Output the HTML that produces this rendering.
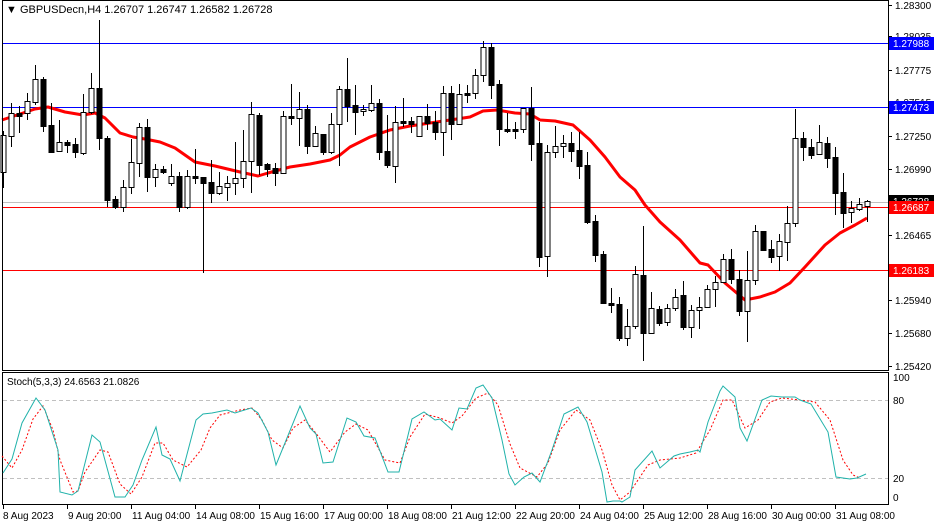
<!DOCTYPE html>
<html><head><meta charset="utf-8"><style>
body{margin:0;background:#fff;}
svg{display:block;font-family:"Liberation Sans",sans-serif;}
</style></head><body>
<svg id="s" width="934" height="526" xmlns="http://www.w3.org/2000/svg">
<rect width="934" height="526" fill="#fff"/>
<g id="main"></g>
</svg>
<script>
var NS="http://www.w3.org/2000/svg",s=document.getElementById("main");
function el(t,a,txt){var e=document.createElementNS(NS,t);for(var k in a)e.setAttribute(k,a[k]);if(txt!=null)e.textContent=txt;s.appendChild(e);return e;}
// horizontal lines
el("line",{x1:2,x2:888,y1:43.5,y2:43.5,stroke:"#0000ff","stroke-width":1});
el("line",{x1:2,x2:888,y1:107.5,y2:107.5,stroke:"#0000ff","stroke-width":1});
el("line",{x1:2,x2:888,y1:202.5,y2:202.5,stroke:"#c0c0c0","stroke-width":1});
el("line",{x1:2,x2:888,y1:207.5,y2:207.5,stroke:"#ff0000","stroke-width":1});
el("line",{x1:2,x2:888,y1:270.5,y2:270.5,stroke:"#ff0000","stroke-width":1});
// MA
var ma=[[2,120],[20,114],[35,109],[48,107],[65,112],[83,115],[95,113],[105,118],[120,133],[133,137],[145,139],[160,142],[175,148],[195,162],[215,166],[240,172],[258,176],[268,173],[290,167],[310,164],[330,160],[340,155],[350,147],[370,137],[390,130],[410,126],[430,123],[450,120],[470,117],[483,111],[497,110],[515,113],[530,114],[540,120],[555,121],[573,125],[590,140],[605,157],[620,177],[635,190],[645,205],[660,222],[680,240],[693,255],[700,263],[708,265],[725,283],[745,300],[760,297],[775,292],[790,283],[805,267],[825,245],[840,233],[855,225],[867,218]];
el("polyline",{points:ma.map(p=>p.join(",")).join(" "),fill:"none",stroke:"#ff0000","stroke-width":3,"stroke-linejoin":"round"});
// candles [x,wt,wb,bt,bb,bull]
var c=[[3,131,188,135,172,1],[11,103,147,113,136,1],[19,106,133,113,116,0],[27,93,120,101,113,1],[35,65,105,79,102,1],[43,77,132,79,126,0],[51,103,153,125,152,0],[59,120,152,142,151,1],[67,140,153,142,145,0],[75,138,158,144,152,0],[83,94,155,112,153,1],[91,73,114,88,112,1],[99,20,150,88,138,0],[107,136,207,138,200,0],[115,196,209,199,207,0],[123,180,212,187,207,1],[131,139,194,162,187,1],[139,123,177,127,163,1],[147,119,192,127,177,0],[155,164,187,169,177,1],[163,166,174,169,172,0],[171,164,186,176,183,1],[179,172,212,176,207,0],[187,170,209,176,207,1],[195,149,184,176,178,0],[203,177,273,177,183,0],[211,160,203,182,193,0],[219,172,195,186,193,1],[227,176,201,183,187,1],[235,142,195,178,183,1],[243,130,188,161,178,1],[251,102,193,114,161,1],[259,113,175,115,165,0],[267,163,177,164,169,0],[275,163,186,168,173,0],[283,111,173,116,173,1],[291,84,125,116,118,0],[299,92,146,109,118,1],[307,105,154,109,146,0],[315,126,146,133,146,1],[323,134,155,134,152,0],[331,113,154,124,152,1],[339,86,166,89,124,1],[347,58,122,89,106,0],[355,85,135,105,112,0],[363,105,116,109,111,1],[371,85,112,103,110,1],[379,99,160,103,152,0],[387,115,168,151,165,0],[395,106,183,122,166,1],[403,98,127,121,123,0],[411,117,133,121,124,0],[419,116,137,116,136,1],[427,104,130,116,123,0],[435,111,140,122,132,0],[443,86,156,93,132,1],[451,86,140,93,124,0],[459,84,124,94,124,1],[467,85,103,93,95,0],[475,69,99,75,93,1],[483,41,82,47,75,1],[491,43,99,47,85,0],[499,80,146,84,129,0],[507,113,133,129,131,0],[515,122,139,129,131,0],[523,108,133,108,129,1],[531,87,161,108,144,0],[539,122,267,143,257,0],[547,145,277,152,256,1],[555,126,158,146,152,1],[563,135,158,143,146,1],[571,132,162,143,151,0],[579,132,179,150,166,0],[587,152,224,165,222,0],[595,215,262,221,255,0],[603,251,304,254,303,0],[611,288,313,303,305,0],[619,297,341,304,338,0],[627,309,346,326,338,1],[635,266,329,274,326,1],[643,226,361,275,333,0],[651,292,333,308,333,1],[659,306,326,309,323,0],[667,304,326,308,322,1],[675,289,311,297,308,1],[683,281,330,295,327,0],[691,305,338,310,327,1],[699,297,329,307,310,1],[707,285,307,289,307,1],[715,276,307,282,289,1],[723,254,283,259,282,1],[731,249,284,259,279,0],[739,270,316,279,311,0],[747,251,342,280,311,1],[755,225,285,231,280,1],[763,231,251,231,250,0],[771,240,263,249,257,0],[779,234,271,241,256,1],[787,206,261,223,242,1],[795,109,227,138,223,1],[803,132,161,138,147,0],[811,139,159,147,155,0],[819,125,154,142,154,1],[827,137,168,143,158,0],[835,147,215,157,193,0],[843,173,228,192,213,0],[851,201,223,208,212,1],[859,198,211,204,209,1],[867,200,222,201,206,1]];
c.forEach(function(d){
 el("line",{x1:d[0]+.5,x2:d[0]+.5,y1:d[1],y2:d[2],stroke:"#000","stroke-width":1});
 var h=Math.max(1,d[4]-d[3]);
 el("rect",{x:d[0]-2,y:d[3]+.5,width:5,height:h,fill:d[5]?"#fff":"#000",stroke:"#000","stroke-width":1});
});
// frames
el("rect",{x:2.5,y:0.5,width:886,height:370,fill:"none",stroke:"#000"});
el("rect",{x:2.5,y:372.5,width:886,height:132,fill:"none",stroke:"#000"});
el("line",{x1:3,x2:888,y1:400.5,y2:400.5,stroke:"#c0c0c0","stroke-dasharray":"4,3"});
el("line",{x1:3,x2:888,y1:478.5,y2:478.5,stroke:"#c0c0c0","stroke-dasharray":"4,3"});
// stoch
var k=[[3,473],[12,459],[22,423],[36,398],[45,410],[58,450],[60,492],[72,495],[78,491],[92,435],[100,442],[115,497],[125,497],[133,485],[142,460],[156,427],[162,455],[170,459],[180,481],[196,420],[203,414],[212,413],[227,410],[235,413],[251,408],[258,413],[268,432],[276,465],[300,406],[310,428],[316,434],[323,463],[333,462],[347,418],[356,422],[364,436],[375,438],[388,472],[399,472],[412,419],[424,412],[435,420],[440,419],[452,430],[459,408],[467,409],[476,388],[483,385],[492,398],[502,440],[509,474],[515,485],[524,477],[532,473],[540,482],[552,450],[564,414],[578,407],[587,422],[602,472],[607,502],[613,501],[620,501],[622,502],[630,497],[635,470],[652,451],[660,468],[674,456],[680,454],[690,452],[698,450],[700,452],[708,422],[720,391],[723,386],[735,397],[740,428],[747,441],[762,400],[771,396],[782,397],[795,397],[800,400],[811,404],[828,432],[836,477],[850,479],[857,478],[866,474]];
var d=[[2,456],[12,468],[22,450],[33,419],[43,406],[53,430],[60,460],[73,492],[78,491],[85,472],[100,450],[108,452],[120,484],[131,494],[142,477],[155,443],[163,443],[173,460],[187,467],[201,450],[210,428],[220,415],[240,410],[252,408],[262,420],[272,440],[283,448],[293,428],[305,420],[315,432],[330,452],[345,432],[356,424],[368,430],[385,460],[400,463],[410,437],[425,414],[440,418],[452,423],[462,416],[476,398],[488,393],[498,405],[510,444],[520,468],[537,477],[548,463],[560,430],[576,410],[590,420],[602,450],[612,485],[620,500],[630,492],[648,465],[660,460],[680,458],[696,453],[710,430],[723,400],[732,400],[745,428],[758,420],[770,402],[782,398],[800,400],[815,402],[830,420],[843,460],[853,475],[860,478]];
el("polyline",{points:d.map(p=>p.join(",")).join(" "),fill:"none",stroke:"#ff0000","stroke-width":1,"stroke-dasharray":"2,2"});
el("polyline",{points:k.map(p=>p.join(",")).join(" "),fill:"none",stroke:"#20b2aa","stroke-width":1});
// texts
el("text",{x:6,y:13,"font-size":"11",fill:"#000"},"\u25BC GBPUSDecn,H4  1.26707 1.26747 1.26582 1.26728");
el("text",{x:7,y:385,"font-size":"10",fill:"#000"},"Stoch(5,3,3) 24.6563 21.0826");
// price axis
[["1.28300",5],["1.28035",36],["1.27775",70],["1.27515",102],["1.27250",136],["1.26990",169],["1.26465",235],["1.25940",300],["1.25680",333],["1.25420",366]].forEach(function(p){
 el("line",{x1:888,x2:892,y1:p[1]+.5,y2:p[1]+.5,stroke:"#000"});
 el("text",{x:895,y:p[1]+4,"font-size":"10",fill:"#000"},p[0]);
});
[["1.27988",43,"#0000ff"],["1.27473",107,"#0000ff"],["1.26728",201,"#000"],["1.26687",207,"#ff0000"],["1.26183",270,"#ff0000"]].forEach(function(p){
 el("rect",{x:889,y:p[1]-6,width:45,height:13,fill:p[2]});
 el("text",{x:893,y:p[1]+4,"font-size":"10",fill:"#fff"},p[0]);
});
[["100",377],["80",400],["20",478],["0",497]].forEach(function(p){
 el("text",{x:893,y:p[1]+4,"font-size":"10",fill:"#000"},p[0]);
});
// time axis
[["8 Aug 2023",3],["9 Aug 20:00",67],["11 Aug 04:00",131],["14 Aug 08:00",195],["15 Aug 16:00",259],["17 Aug 00:00",323],["18 Aug 08:00",387],["21 Aug 12:00",451],["22 Aug 20:00",515],["24 Aug 04:00",579],["25 Aug 12:00",643],["28 Aug 16:00",707],["30 Aug 00:00",771],["31 Aug 08:00",835]].forEach(function(p){
 el("line",{x1:p[1]+.5,x2:p[1]+.5,y1:505,y2:509,stroke:"#000"});
 el("text",{x:p[1]+(p[1]<10?0:1),y:519,"font-size":"10",fill:"#000"},p[0]);
});
</script>
</body></html>
